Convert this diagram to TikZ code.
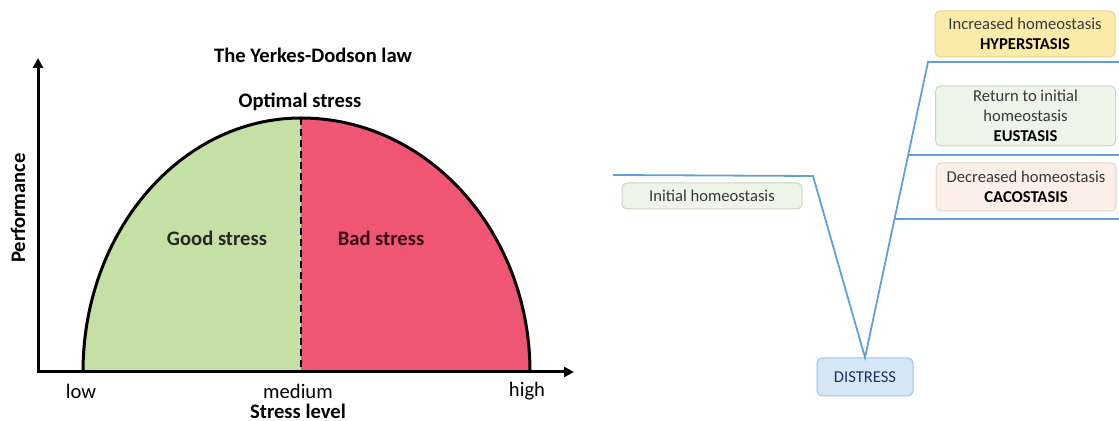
\documentclass[tikz,border=0pt]{standalone}
\usepackage{fontspec}
\setmainfont{Carlito}
\usetikzlibrary{arrows.meta,calc}
\definecolor{goodgreen}{RGB}{197,224,165}
\definecolor{badred}{RGB}{238,86,116}
\definecolor{badtext}{RGB}{58,12,22}
\definecolor{linkblue}{RGB}{95,160,220}
\definecolor{hyperfill}{RGB}{250,236,168}
\definecolor{hyperdraw}{RGB}{228,214,140}
\definecolor{eufill}{RGB}{237,244,232}
\definecolor{eudraw}{RGB}{200,214,196}
\definecolor{cacofill}{RGB}{252,239,231}
\definecolor{cacodraw}{RGB}{226,214,206}
\definecolor{disfill}{RGB}{213,231,247}
\definecolor{disdraw}{RGB}{160,196,228}
\definecolor{distext}{RGB}{31,52,92}
\begin{document}
\begin{tikzpicture}[
  x=0.5pt, y=-0.5pt,
  lbl/.style={inner sep=0pt, font=\fontsize{10.3}{12}\selectfont},
  head/.style={inner sep=0pt, font=\fontsize{10.3}{12}\selectfont\bfseries},
  state/.style={draw, rounded corners=2.5pt, align=center, inner sep=0pt,
                line width=0.5pt, text=black!78, minimum width=90pt,
                font=\fontsize{8.3}{10}\selectfont},
  link/.style={draw=linkblue, line width=0.9pt},
  >={Triangle[length=5pt,width=5pt]}
]
\useasboundingbox (0,0) rectangle (1119,421);
% Yerkes-Dodson curve
\fill[goodgreen] (301,372) -- (83,372) .. controls (83,231.7) and (180.6,118) .. (301,118) -- cycle;
\fill[badred] (301,372) -- (301,118) .. controls (427.5,118) and (530,231.7) .. (530,372) -- cycle;
\draw[line width=1.5pt] (83,372) .. controls (83,231.7) and (180.6,118) .. (301,118)
  .. controls (427.5,118) and (530,231.7) .. (530,372);
\draw[line width=1.2pt, dash pattern=on 3.5pt off 2pt] (301,118) -- (301,372);
\draw[line width=1.5pt, <->] (38,58) -- (38,372) -- (574,372);
\node[head] (title) at (313,55) {The Yerkes-Dodson law};
\node[head] (optimal) at (300,102) {Optimal stress};
\node[head, text=black!85] (good) at (217,238) {Good stress};
\node[head, text=badtext] (bad) at (381,238) {Bad stress};
\node[lbl] (low) at (81,391) {low};
\node[lbl] (medium) at (298,391) {medium};
\node[lbl] (high) at (527,391) {high};
\node[head] (level) at (298,411) {Stress level};
\node[head, rotate=90] (perf) at (18,208) {Performance};
% homeostasis states
\node[state, fill=eufill, draw=eudraw, minimum height=13pt] (initial) at (712,196) {Initial homeostasis};
\node[state, fill=hyperfill, draw=hyperdraw, minimum height=23pt] (hyper) at (1025,34)
  {Increased homeostasis\\\textbf{\color{black}HYPERSTASIS}};
\node[state, fill=eufill, draw=eudraw, minimum height=30pt] (eu) at (1025.5,116)
  {Return to initial\\homeostasis\\\textbf{\color{black}EUSTASIS}};
\node[state, fill=cacofill, draw=cacodraw, minimum height=24pt] (caco) at (1026,187)
  {Decreased homeostasis\\\textbf{\color{black}CACOSTASIS}};
\node[state, fill=disfill, draw=disdraw, minimum width=48pt, minimum height=19pt,
      text=distext] (distress) at (865,377) {DISTRESS};
\coordinate (init-end) at (613,175);
\coordinate (init-bend) at (813,176);
\coordinate (hyper-bend) at (928,62);
\coordinate (hyper-end) at (1119,62);
\coordinate (eu-fork) at ($(distress.north)!0.686!(hyper-bend)$);
\coordinate (caco-fork) at ($(distress.north)!0.47!(hyper-bend)$);
\draw[link] (init-end) -- (init-bend) -- (distress.north) -- (hyper-bend) -- (hyper-end);
\draw[link] (eu-fork) -- (eu-fork -| hyper-end);
\draw[link] (caco-fork) -- (caco-fork -| hyper-end);
\end{tikzpicture}
\end{document}
